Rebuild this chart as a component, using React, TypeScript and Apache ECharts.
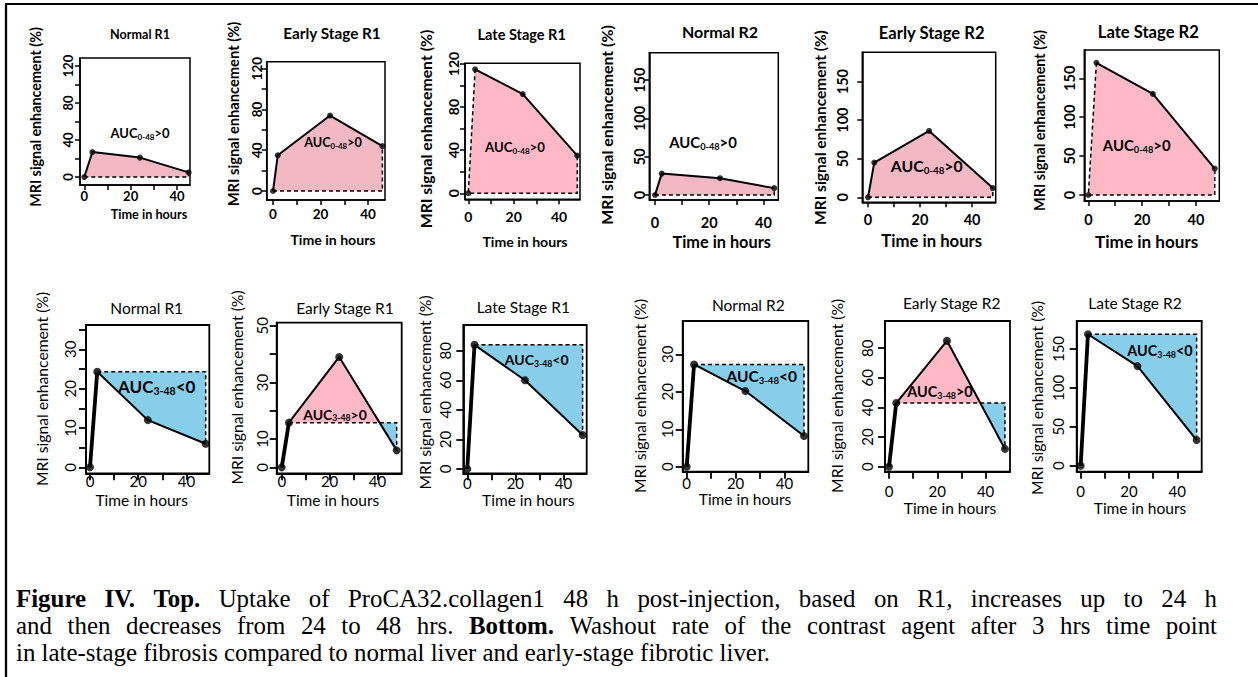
import React, { useEffect, useRef } from "react";
import * as echarts from "echarts";

// ---------------- DATA ----------------
const panelTitles = ["Normal R1", "Early Stage R1", "Late Stage R1", "Normal R2", "Early Stage R2", "Late Stage R2"];
const xTickValues = [0, 10, 20, 30, 40];
const xTickLabels = [0, 20, 40];

// Top row: uptake, time (h) and MRI signal enhancement (%)
const upNormalR1Time = [0, 3.5, 24, 45];
const upNormalR1Value = [0, 27, 21, 5];
const upEarlyR1Time = [0, 2, 24, 46];
const upEarlyR1Value = [0, 35, 74, 44];
const upLateR1Time = [0, 3, 24, 48];
const upLateR1Value = [0, 115, 92, 35];
const upNormalR2Time = [0, 2.5, 24, 44];
const upNormalR2Value = [0, 28, 22, 9];
const upEarlyR2Time = [0, 2.4, 23.5, 48];
const upEarlyR2Value = [0, 45, 86, 12];
const upLateR2Time = [0, 3, 24, 47];
const upLateR2Value = [0, 170, 130, 34];

// Bottom row: washout after 3 h
const woTime = [0, 3, 24, 48];
const woNormalR1Value = [0, 24.3, 12, 6];
const woEarlyR1Value = [0, 15.8, 39, 6];
const woLateR1Value = [0, 84, 60, 23];
const woNormalR2Value = [0, 27.3, 20.2, 8.2];
const woEarlyR2Value = [0, 43, 85, 12];
const woLateR2Time = [0, 3, 23.5, 48];
const woLateR2Value = [0, 169, 128, 33];

// y ticks / labels
const yTicksUpR1 = [0, 20, 40, 60, 80, 100, 120];
const yLabelsUpR1 = [0, 40, 80, 120];
const yTicksUpR2 = [0, 50, 100, 150];
const yTicksWoNormalR1 = [0, 5, 10, 15, 20, 25, 30, 35];
const yLabelsWoNormalR1 = [0, 10, 20, 30];
const yTicksWoEarlyR1 = [0, 10, 20, 30, 40, 50];
const yLabelsWoEarlyR1 = [0, 10, 30, 50];
const yTicksWoLateR1 = [0, 20, 40, 60, 80];
const yTicksWoNormalR2 = [0, 10, 20, 30];
const yTicksWoEarlyR2 = [0, 20, 40, 60, 80];
const yTicksWoLateR2 = [0, 50, 100, 150];

const aucTopRange = "0-48";
const aucBottomRange = "3-48";
const xAxisTitle = "Time in hours";
const yAxisTitle = "MRI signal enhancement (%)";

const captionLines: string[][][] = [
  [["b", "Figure IV. Top."], ["r", "Uptake of ProCA32.collagen1 48 h post-injection, based on R1, increases up to 24 h"]],
  [["r", "and then decreases from 24 to 48 hrs."], ["b", "Bottom."], ["r", "Washout rate of the contrast agent after 3 hrs time point"]],
  [["r", "in late-stage fibrosis compared to normal liver and early-stage fibrotic liver."]],
];

type Row = "top" | "bottom";
interface PanelDef {
  row: Row;
  title: string;
  time: number[];
  value: number[];
  yTicks: number[];
  yLabels: number[];
}

const panelDefs: PanelDef[] = [
  { row: "top", title: panelTitles[0], time: upNormalR1Time, value: upNormalR1Value, yTicks: yTicksUpR1, yLabels: yLabelsUpR1 },
  { row: "top", title: panelTitles[1], time: upEarlyR1Time, value: upEarlyR1Value, yTicks: yTicksUpR1, yLabels: yLabelsUpR1 },
  { row: "top", title: panelTitles[2], time: upLateR1Time, value: upLateR1Value, yTicks: yTicksUpR1, yLabels: yLabelsUpR1 },
  { row: "top", title: panelTitles[3], time: upNormalR2Time, value: upNormalR2Value, yTicks: yTicksUpR2, yLabels: yTicksUpR2 },
  { row: "top", title: panelTitles[4], time: upEarlyR2Time, value: upEarlyR2Value, yTicks: yTicksUpR2, yLabels: yTicksUpR2 },
  { row: "top", title: panelTitles[5], time: upLateR2Time, value: upLateR2Value, yTicks: yTicksUpR2, yLabels: yTicksUpR2 },
  { row: "bottom", title: panelTitles[0], time: woTime, value: woNormalR1Value, yTicks: yTicksWoNormalR1, yLabels: yLabelsWoNormalR1 },
  { row: "bottom", title: panelTitles[1], time: woTime, value: woEarlyR1Value, yTicks: yTicksWoEarlyR1, yLabels: yLabelsWoEarlyR1 },
  { row: "bottom", title: panelTitles[2], time: woTime, value: woLateR1Value, yTicks: yTicksWoLateR1, yLabels: yTicksWoLateR1 },
  { row: "bottom", title: panelTitles[3], time: woTime, value: woNormalR2Value, yTicks: yTicksWoNormalR2, yLabels: yTicksWoNormalR2 },
  { row: "bottom", title: panelTitles[4], time: woTime, value: woEarlyR2Value, yTicks: yTicksWoEarlyR2, yLabels: yTicksWoEarlyR2 },
  { row: "bottom", title: panelTitles[5], time: woLateR2Time, value: woLateR2Value, yTicks: yTicksWoLateR2, yLabels: yTicksWoLateR2 },
];

// ---------------- LAYOUT / STYLE ----------------
interface Fs { title: number; xName: number; yName: number; tick: number; auc: number }
interface Layout {
  box: [number, number, number, number]; // l t r b
  xr: [number, number];
  yr: [number, number];
  titlePos: [number, number];
  xLabelY: number;
  xNamePos: [number, number];
  yLabelX: number;
  yNamePos: [number, number];
  aucPos: [number, number];
  fs: Fs;
  fill: string;
  dashedRise: boolean;
}

const PINK_SOFT = "#F2B8C3";
const PINK = "#FFB8C6";
const BLUE = "#87CEEB";

const layouts: Layout[] = [
  { box: [80, 58, 190, 185], xr: [-1.85, 45.6], yr: [-8.6, 128.6], titlePos: [140, 34], xLabelY: 197, xNamePos: [149, 214], yLabelX: 68, yNamePos: [35, 117], aucPos: [140, 133], fs: { title: 12.6, xName: 12.7, yName: 14.3, tick: 13, auc: 13 }, fill: PINK_SOFT, dashedRise: false },
  { box: [266.7, 61.7, 385, 200], xr: [-2.65, 47.1], yr: [-8.8, 126.8], titlePos: [332, 33], xLabelY: 214, xNamePos: [333, 239], yLabelX: 257, yNamePos: [233, 114], aucPos: [333, 142], fs: { title: 15.3, xName: 14.1, yName: 14.7, tick: 13.5, auc: 12.7 }, fill: PINK_SOFT, dashedRise: false },
  { box: [465, 63.3, 580, 199.3], xr: [-1.45, 49.2], yr: [-5.6, 120.6], titlePos: [521.7, 34], xLabelY: 217, xNamePos: [525, 241], yLabelX: 453, yNamePos: [425, 129], aucPos: [515, 147], fs: { title: 14.5, xName: 14.1, yName: 15.8, tick: 14, auc: 13.2 }, fill: PINK, dashedRise: true },
  { box: [649.3, 52.7, 778.3, 200], xr: [-2.1, 45.5], yr: [-6.5, 186], titlePos: [720, 31.7], xLabelY: 223, xNamePos: [721.7, 241], yLabelX: 640, yNamePos: [606, 125], aucPos: [703, 142], fs: { title: 16, xName: 16.3, yName: 15.9, tick: 14.5, auc: 14.9 }, fill: PINK_SOFT, dashedRise: false },
  { box: [862.3, 52.3, 995.7, 202.3], xr: [-2.2, 49.1], yr: [-6.5, 188], titlePos: [931.7, 33.3], xLabelY: 220, xNamePos: [931.7, 241], yLabelX: 843, yNamePos: [820, 127.5], aucPos: [926.7, 165.7], fs: { title: 16.6, xName: 16.7, yName: 15.5, tick: 14.5, auc: 15.8 }, fill: PINK_SOFT, dashedRise: false },
  { box: [1084.3, 50, 1219.3, 201], xr: [-1.5, 48.7], yr: [-7.7, 186.4], titlePos: [1148.3, 31.7], xLabelY: 220, xNamePos: [1146.7, 241], yLabelX: 1070, yNamePos: [1039.3, 120.5], aucPos: [1136.7, 145], fs: { title: 16.6, xName: 17.1, yName: 14.4, tick: 14.5, auc: 14.9 }, fill: PINK, dashedRise: true },

  { box: [86, 325, 209.3, 473.3], xr: [-1.66, 49.5], yr: [-1.53, 36.2], titlePos: [146.7, 308.3], xLabelY: 482, xNamePos: [141.7, 500], yLabelX: 70, yNamePos: [41.7, 389], aucPos: [156.7, 386], fs: { title: 15.5, xName: 15.5, yName: 15.7, tick: 15, auc: 17 }, fill: PINK, dashedRise: false },
  { box: [276.7, 322.7, 401.7, 473.3], xr: [-2.1, 50.1], yr: [-2.1, 51.1], titlePos: [345, 308.3], xLabelY: 482, xNamePos: [333, 500], yLabelX: 261.7, yNamePos: [236.7, 387.5], aucPos: [335, 414], fs: { title: 15.5, xName: 15.5, yName: 15.7, tick: 15, auc: 14 }, fill: PINK, dashedRise: false },
  { box: [463.3, 325, 586.7, 473.3], xr: [-1.66, 49.7], yr: [-2.9, 97.4], titlePos: [523.3, 306.7], xLabelY: 483.3, xNamePos: [528.3, 500], yLabelX: 445, yNamePos: [425, 392.5], aucPos: [536.7, 359.3], fs: { title: 15.5, xName: 15.5, yName: 15.7, tick: 15, auc: 14 }, fill: PINK, dashedRise: false },
  { box: [682.7, 321, 808.3, 471.7], xr: [-1.64, 49.75], yr: [-1.33, 38.9], titlePos: [748.3, 305], xLabelY: 483.3, xNamePos: [745, 499.3], yLabelX: 666.7, yNamePos: [640, 396], aucPos: [761.7, 375.7], fs: { title: 15.5, xName: 15.5, yName: 15.7, tick: 15, auc: 15.5 }, fill: PINK, dashedRise: false },
  { box: [885, 321, 1010, 471.7], xr: [-1.65, 50.1], yr: [-3.4, 98.4], titlePos: [951.7, 303.3], xLabelY: 491.7, xNamePos: [950, 508.3], yLabelX: 866.7, yNamePos: [836.7, 395.8], aucPos: [940, 391], fs: { title: 15.5, xName: 15.5, yName: 15.7, tick: 15, auc: 14.4 }, fill: PINK, dashedRise: false },
  { box: [1076.7, 321, 1201.7, 471.7], xr: [-1.65, 50.1], yr: [-7.7, 186], titlePos: [1135, 303.3], xLabelY: 491.7, xNamePos: [1140, 508.3], yLabelX: 1058.3, yNamePos: [1036.7, 398], aucPos: [1160, 350], fs: { title: 15.5, xName: 15.5, yName: 15.7, tick: 15, auc: 14.4 }, fill: PINK, dashedRise: false },
];

const FONT = "Lato, 'Open Sans', sans-serif";
const SERIF_NAME = "Liberation Serif";
const SERIF = "'Liberation Serif', 'Times New Roman', serif";
const CAP_FS = 24.9;
const CAP_LEFT = 16;
const CAP_RIGHT = 1217;
const CAP_Y = [598, 625, 652];

// split the region between curve and a horizontal baseline into signed polygons
function splitPolys(pts: number[][], base: number) {
  const out: { sign: number; pts: number[][] }[] = [];
  let cur: number[][] = [[pts[0][0], base]];
  let curSign = 0;
  for (let i = 0; i < pts.length; i++) {
    const [t, v] = pts[i];
    const s = Math.sign(v - base);
    if (i > 0) {
      const [t0, v0] = pts[i - 1];
      const s0 = Math.sign(v0 - base);
      if (s0 !== 0 && s !== 0 && s0 !== s) {
        const tc = t0 + ((base - v0) / (v - v0)) * (t - t0);
        cur.push([tc, base]);
        out.push({ sign: curSign || s0, pts: cur });
        cur = [[tc, base]];
        curSign = s;
      }
    }
    cur.push([t, v]);
    if (s !== 0) curSign = s;
  }
  cur.push([pts[pts.length - 1][0], base]);
  out.push({ sign: curSign, pts: cur });
  return out;
}

let measureCtx: CanvasRenderingContext2D | null = null;
function measure(text: string, bold: boolean) {
  if (!measureCtx) measureCtx = document.createElement("canvas").getContext("2d");
  if (!measureCtx) return text.length * CAP_FS * 0.45;
  measureCtx.font = `${bold ? "bold " : ""}${CAP_FS}px "${SERIF_NAME}"`;
  return measureCtx.measureText(text).width;
}

function buildCaption(): any[] {
  const els: any[] = [];
  const rich = {
    b: { fontFamily: SERIF, fontSize: CAP_FS, fontWeight: "bold", fill: "#000" },
    r: { fontFamily: SERIF, fontSize: CAP_FS, fontWeight: "normal", fill: "#000" },
  } as any;
  captionLines.forEach((line, k) => {
    const words: { s: string; w: string }[] = [];
    line.forEach(([s, txt]) => txt.split(" ").forEach((w) => words.push({ s, w })));
    const justify = k < captionLines.length - 1;
    let text = "";
    if (justify) {
      const total = words.reduce((acc, wd) => acc + measure(wd.w, wd.s === "b"), 0);
      const gap = (CAP_RIGHT - CAP_LEFT - total) / (words.length - 1);
      rich[`g${k}`] = { fontFamily: SERIF, fontSize: CAP_FS, width: gap };
      text = words.map((wd, i) => `{${wd.s}|${wd.w}}` + (i < words.length - 1 ? `{g${k}| }` : "")).join("");
    } else {
      text = words.map((wd) => `{${wd.s}|${wd.w}}`).join(`{${words[0].s}| }`);
    }
    els.push({
      type: "text", x: CAP_LEFT, y: CAP_Y[k], z: 100,
      style: { text, align: "left", verticalAlign: "middle", textAlign: "left", textVerticalAlign: "middle", rich },
    });
  });
  return els;
}

function buildOption() {
  const grids: any[] = [];
  const xAxes: any[] = [];
  const yAxes: any[] = [];
  const series: any[] = [];
  const graphics: any[] = [];

  panelDefs.forEach((p, i) => {
    const L = layouts[i];
    const [l, t, r, b] = L.box;
    const isTop = p.row === "top";
    const weight = isTop ? "bold" : "normal";
    const bw = isTop ? 1.5 : 1.8;
    const tickLen = isTop ? 5 : 7;

    grids.push({
      left: l, top: t, width: r - l, height: b - t,
      show: true, borderColor: "#000", borderWidth: bw, backgroundColor: "transparent",
      containLabel: false, outerBoundsMode: "none",
    });

    xAxes.push({
      type: "value", gridIndex: i, min: L.xr[0], max: L.xr[1],
      axisLine: { show: true, onZero: false, lineStyle: { color: "#000", width: bw } },
      axisTick: { show: true, inside: false, length: tickLen, lineStyle: { color: "#000", width: bw }, customValues: xTickValues },
      axisLabel: {
        show: true, customValues: xTickLabels, hideOverlap: false,
        margin: Math.max(0, L.xLabelY - b - L.fs.tick * 0.55),
        color: "#000", fontFamily: FONT, fontSize: L.fs.tick, fontWeight: weight,
        formatter: (v: number) => String(v),
      },
      splitLine: { show: false },
    });

    yAxes.push({
      type: "value", gridIndex: i, min: L.yr[0], max: L.yr[1],
      axisLine: { show: true, onZero: false, lineStyle: { color: "#000", width: bw } },
      axisTick: { show: true, inside: false, length: tickLen, lineStyle: { color: "#000", width: bw }, customValues: p.yTicks },
      axisLabel: {
        show: true, customValues: p.yLabels, hideOverlap: false, rotate: 90,
        margin: l - L.yLabelX - L.fs.tick * 0.5,
        color: "#000", fontFamily: FONT, fontSize: L.fs.tick, fontWeight: weight,
        formatter: (v: number) => String(v),
      },
      splitLine: { show: false },
    });

    const pts = p.time.map((tt, k) => [tt, p.value[k]]);
    const start = isTop ? 0 : 1;
    const base = p.value[start];

    // shaded AUC regions and dashed outlines
    series.push({
      type: "custom", xAxisIndex: i, yAxisIndex: i, silent: true, clip: false, z: 1,
      data: [pts[0]],
      renderItem: (_params: any, api: any) => {
        const used = pts.slice(start);
        const polys = splitPolys(used, base);
        const children: any[] = polys.map((poly) => ({
          type: "polygon",
          shape: { points: poly.pts.map((q) => api.coord(q)) },
          style: { fill: poly.sign >= 0 ? L.fill : BLUE, stroke: "none" },
        }));
        const last = pts[pts.length - 1];
        let dashPts: number[][];
        if (isTop) {
          dashPts = L.dashedRise
            ? [pts[1], pts[0], [last[0], base], last]
            : [[pts[0][0], base], [last[0], base], last];
        } else {
          dashPts = [pts[1], [last[0], base], last];
        }
        children.push({
          type: "polyline",
          shape: { points: dashPts.map((q) => api.coord(q)) },
          style: { stroke: "#000", lineWidth: 1.5, lineDash: [4, 3], fill: null },
        });
        return { type: "group", children };
      },
    });

    if (isTop) {
      series.push({
        type: "line", xAxisIndex: i, yAxisIndex: i, z: 3, symbol: "none",
        data: pts.slice(L.dashedRise ? 1 : 0),
        lineStyle: { color: "#000", width: 2 },
      });
    } else {
      series.push({
        type: "line", xAxisIndex: i, yAxisIndex: i, z: 3, symbol: "none",
        data: pts.slice(0, 2),
        lineStyle: { color: "#000", width: 3.8 },
      });
      series.push({
        type: "line", xAxisIndex: i, yAxisIndex: i, z: 3, symbol: "none",
        data: pts.slice(1),
        lineStyle: { color: "#000", width: 2 },
      });
    }
    series.push({
      type: "scatter", xAxisIndex: i, yAxisIndex: i, z: 4,
      data: pts, symbol: "circle", symbolSize: isTop ? 6 : 8,
      itemStyle: { color: "#000" },
    });

    // texts
    graphics.push({
      type: "text", x: L.titlePos[0], y: L.titlePos[1], z: 100,
      style: { text: p.title, fill: "#000", font: `${weight} ${L.fs.title}px ${FONT}`, align: "center", verticalAlign: "middle", textAlign: "center", textVerticalAlign: "middle" },
    });
    graphics.push({
      type: "text", x: L.xNamePos[0], y: L.xNamePos[1], z: 100,
      style: { text: xAxisTitle, fill: "#000", font: `${weight} ${L.fs.xName}px ${FONT}`, align: "center", verticalAlign: "middle", textAlign: "center", textVerticalAlign: "middle" },
    });
    graphics.push({
      type: "text", x: L.yNamePos[0], y: L.yNamePos[1], rotation: Math.PI / 2, z: 100,
      style: { text: yAxisTitle, fill: "#000", font: `${weight} ${L.fs.yName}px ${FONT}`, align: "center", verticalAlign: "middle", textAlign: "center", textVerticalAlign: "middle" },
    });
    const peak = Math.max(...p.value.slice(start));
    const sign = isTop ? ">0" : (peak > base ? ">0" : "<0");
    const fsA = L.fs.auc;
    graphics.push({
      type: "text", x: L.aucPos[0], y: L.aucPos[1], z: 100,
      style: {
        text: `{a|AUC}{s|${isTop ? aucTopRange : aucBottomRange}}{a|${sign}}`,
        align: "center", verticalAlign: "middle", textAlign: "center", textVerticalAlign: "middle",
        rich: {
          a: { fontFamily: FONT, fontSize: fsA, fontWeight: "bold", fill: "#000", lineHeight: fsA * 1.2 },
          s: { fontFamily: FONT, fontSize: fsA * 0.62, fontWeight: "bold", fill: "#000", lineHeight: fsA * 0.5, verticalAlign: "bottom" },
        },
      },
    });
  });

  graphics.push(...buildCaption());

  // frame
  graphics.push({ type: "line", z: 100, shape: { x1: 5, y1: 4, x2: 1258, y2: 4 }, style: { stroke: "#000", lineWidth: 1.8 } });
  graphics.push({ type: "line", z: 100, shape: { x1: 6, y1: 4, x2: 6, y2: 677 }, style: { stroke: "#000", lineWidth: 2.3 } });

  return {
    animation: false,
    backgroundColor: "#fff",
    grid: grids,
    xAxis: xAxes,
    yAxis: yAxes,
    series,
    graphic: { elements: graphics },
  };
}

export default function App() {
  const ref = useRef<HTMLDivElement>(null);
  useEffect(() => {
    document.body.style.margin = "0";
    if (!ref.current) return;
    const chart = echarts.init(ref.current, undefined, { renderer: "svg" });
    chart.setOption(buildOption() as any);
    return () => chart.dispose();
  }, []);
  return <div ref={ref} style={{ width: 1258, height: 677, background: "#fff" }} />;
}
